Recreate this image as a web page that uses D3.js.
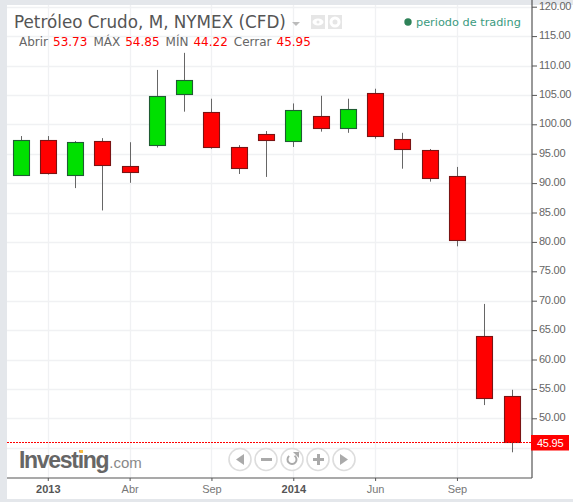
<!DOCTYPE html>
<html>
<head>
<meta charset="utf-8">
<script src="https://cdn.jsdelivr.net/npm/d3@7"></script>
<style>
	html, body {margin:0; padding:0; background:#fff; overflow:hidden;}
	svg {display:block;}
</style>
</head>
<body>
<div id="chart"></div>
<script>
// monthly candles
let opens  = [91.45, 97.25, 91.45, 97.1, 92.85, 96.45, 105.1, 102.05, 96.1, 98.3, 97.1, 101.35, 99.45, 105.25, 97.45, 95.55, 91.15, 64.05, 53.73];
let closes = [97.25, 91.75, 96.95, 93.15, 91.85, 104.75, 107.5, 96.1, 92.5, 97.25, 102.35, 99.45, 102.55, 97.95, 95.75, 90.95, 80.25, 53.45, 45.95];
let highs  = [98.0, 98.0, 97.15, 97.65, 96.95, 109.25, 112.15, 104.35, 96.45, 98.85, 103.55, 104.85, 104.35, 106.05, 98.55, 95.8, 92.75, 69.45, 54.85];
let lows   = [91.45, 91.45, 89.15, 85.35, 90.05, 96.05, 102.15, 95.85, 91.55, 91.05, 96.15, 98.75, 98.55, 97.55, 92.45, 90.25, 79.25, 52.25, 44.22];

let yTicks = [50, 55, 60, 65, 70, 75, 80, 85, 90, 95, 100, 105, 110, 115, 120];
let gridLow = 45;
let xTickIndex = [1, 4, 7, 10, 13, 16];
let xTickLabels = ['2013', 'Abr', 'Sep', '2014', 'Jun', 'Sep'];
let lastClose = 45.95;

let w = 573, h = 502,
	plotLeft = 7, plotRight = 532, plotTop = 5, plotBottom = 478,
	bodyWidth = 16,
	red = '#ff0000', green = '#00e000';

let scaleX = d3.scaleLinear().domain([0, 18]).range([20.5, 511.5]);
let scaleY = d3.scaleLinear().domain([50, 100]).range([418.3, 124.3]);

let svg = d3.select('#chart').append('svg').attr('width', w).attr('height', h)
	.style('font-family', '"Liberation Sans", Arial, sans-serif');

// page frame
svg.append('rect').attr('width', w).attr('height', h).attr('fill', '#e4e7eb');
svg.append('rect').attr('x', plotLeft).attr('y', plotTop).attr('width', w - plotLeft).attr('height', 494)
	.attr('fill', '#fff');

// grid
let gridG = svg.append('g').attr('stroke', '#f0f1f3').attr('stroke-width', 1.3);
yTicks.concat([gridLow]).forEach(function(t){
	let y = Math.round(scaleY(t)) + 0.5;
	gridG.append('line').attr('x1', plotLeft).attr('x2', plotRight).attr('y1', y).attr('y2', y);
});
xTickIndex.forEach(function(i){
	let x = Math.round(scaleX(i)) + 0.5;
	gridG.append('line').attr('x1', x).attr('x2', x).attr('y1', plotTop).attr('y2', plotBottom);
});

// axes
let axisRight = d3.axisRight(scaleY).tickValues(yTicks).tickSize(5).tickPadding(2)
	.tickFormat(d3.format('.2f'));
let yAxisG = svg.append('g').attr('transform', 'translate(' + plotRight + ',0)').call(axisRight);
yAxisG.select('.domain').remove();
yAxisG.append('line').attr('x1', 0).attr('x2', 0).attr('y1', 0).attr('y2', plotBottom)
	.attr('stroke', '#555').attr('stroke-width', 1.2);
yAxisG.selectAll('.tick line').attr('stroke', '#555');
yAxisG.selectAll('.tick text').attr('fill', '#666').attr('y', -1)
	.style('font-size', '11px').style('letter-spacing', '-0.25px');

let axisBottom = d3.axisBottom(scaleX).tickValues(xTickIndex).tickSize(3).tickPadding(4)
	.tickFormat(function(d, i){ return xTickLabels[i]; });
let xAxisG = svg.append('g').attr('transform', 'translate(0,' + plotBottom + ')').call(axisBottom);
xAxisG.select('.domain').remove();
xAxisG.append('line').attr('x1', plotLeft).attr('x2', plotRight).attr('y1', 0).attr('y2', 0)
	.attr('stroke', '#555').attr('stroke-width', 1.2);
xAxisG.selectAll('.tick line').attr('stroke', '#555');
xAxisG.selectAll('.tick text')
	.attr('fill', function(d, i){ return xTickLabels[i].length === 4 ? '#555' : '#777'; })
	.style('font-size', '11px')
	.style('font-weight', function(d, i){ return xTickLabels[i].length === 4 ? 'bold' : 'normal'; });

// candles
opens.forEach(function(o, i){
	let c = closes[i],
		x = Math.round(scaleX(i)),
		isUp = c > o,
		yTop = Math.round(scaleY(Math.max(o, c))),
		yBot = Math.round(scaleY(Math.min(o, c)));
	svg.append('line')
		.attr('x1', x + 0.5).attr('x2', x + 0.5)
		.attr('y1', scaleY(highs[i])).attr('y2', scaleY(lows[i]))
		.attr('stroke', '#666').attr('stroke-width', 1);
	svg.append('rect')
		.attr('x', x - bodyWidth / 2 + 0.5).attr('y', yTop + 0.5)
		.attr('width', bodyWidth).attr('height', yBot - yTop)
		.attr('fill', isUp ? green : red)
		.attr('stroke', isUp ? '#1f5c33' : '#7a1414').attr('stroke-width', 1.1);
});

// last price line and tag
let yLast = Math.round(scaleY(lastClose)) + 0.5;
svg.append('line').attr('x1', plotLeft).attr('x2', plotRight).attr('y1', yLast).attr('y2', yLast)
	.attr('stroke', red).attr('stroke-width', 1).attr('stroke-dasharray', '2,1');
svg.append('rect').attr('x', plotRight - 1).attr('y', yLast - 7.5).attr('width', 38).attr('height', 15.5)
	.attr('fill', red);
svg.append('text').attr('x', 537).attr('y', yLast + 4).attr('fill', '#fff')
	.style('font-size', '11px').style('letter-spacing', '-0.25px').text(d3.format('.2f')(lastClose));

// header
let headFont = '"DejaVu Sans", Verdana, sans-serif';
svg.append('text').attr('x', 14).attr('y', 28).attr('fill', '#555')
	.style('font-family', headFont).style('font-size', '16.8px')
	.text('Petróleo Crudo, M, NYMEX (CFD)');
svg.append('path').attr('d', d3.line()([[292, 22], [300, 22], [296, 26]])).attr('fill', '#bbb');

let ohlcNames = ['Abrir', 'MÁX', 'MÍN', 'Cerrar'],
	ohlcValues = [opens[18], highs[18], lows[18], closes[18]];
let ohlc = svg.append('text').attr('x', 19).attr('y', 46)
	.style('font-family', headFont).style('font-size', '12px');
ohlcNames.forEach(function(n, i){
	ohlc.append('tspan').attr('dx', i ? 6 : 0).attr('fill', '#666').text(n);
	ohlc.append('tspan').attr('dx', 5).attr('fill', red).text(ohlcValues[i].toFixed(2));
});

// eye and gear buttons
[311, 328].forEach(function(x){
	svg.append('rect').attr('x', x).attr('y', 15).attr('width', 14).attr('height', 14).attr('fill', '#e6e6e6');
});
svg.append('ellipse').attr('cx', 318).attr('cy', 22).attr('rx', 5.5).attr('ry', 3.5).attr('fill', '#fff');
svg.append('circle').attr('cx', 318).attr('cy', 22).attr('r', 1.5).attr('fill', '#e6e6e6');
svg.append('circle').attr('cx', 335).attr('cy', 22).attr('r', 4).attr('fill', 'none')
	.attr('stroke', '#fff').attr('stroke-width', 3);

svg.append('circle').attr('cx', 408).attr('cy', 22).attr('r', 3.7).attr('fill', '#2e8258');
svg.append('text').attr('x', 416).attr('y', 26).attr('fill', '#3a9a80')
	.style('font-family', headFont).style('font-size', '11.3px').text('periodo de trading');

// logo
let logo = svg.append('text').attr('x', 19).attr('y', 468);
logo.append('tspan').attr('fill', '#666').style('font-size', '23px').style('font-weight', 'bold')
	.style('letter-spacing', '-1.3px').text('Investing');
logo.append('tspan').attr('fill', '#888').style('font-size', '15px').attr('dx', 1).text('.com');
svg.append('rect').attr('x', 80).attr('y', 450).attr('width', 3).attr('height', 3).attr('fill', '#f5b942');

// zoom and scroll buttons
let btnX = [240, 266, 292, 318, 344];
let btnG = svg.append('g');
btnX.forEach(function(x){
	btnG.append('circle').attr('cx', x).attr('cy', 459.5).attr('r', 11)
		.attr('fill', '#fff').attr('fill-opacity', 0.8).attr('stroke', '#ddd').attr('stroke-width', 1.6);
});
btnG.append('path').attr('d', d3.line()([[244, 454], [244, 465], [236, 459.5]])).attr('fill', '#aaa');
btnG.append('rect').attr('x', 261).attr('y', 458).attr('width', 11).attr('height', 3).attr('fill', '#aaa');
btnG.append('path').attr('d', d3.arc()({innerRadius: 3.5, outerRadius: 5.5, startAngle: 0.6, endAngle: 5.6}))
	.attr('transform', 'translate(292,459.5)').attr('fill', '#aaa');
btnG.append('path').attr('d', d3.line()([[293, 452], [299, 452], [299, 458]])).attr('fill', '#aaa');
btnG.append('rect').attr('x', 313).attr('y', 458).attr('width', 11).attr('height', 3).attr('fill', '#aaa');
btnG.append('rect').attr('x', 317).attr('y', 454).attr('width', 3).attr('height', 11).attr('fill', '#aaa');
btnG.append('path').attr('d', d3.line()([[340, 454], [340, 465], [348, 459.5]])).attr('fill', '#aaa');
</script>
</body>
</html>
